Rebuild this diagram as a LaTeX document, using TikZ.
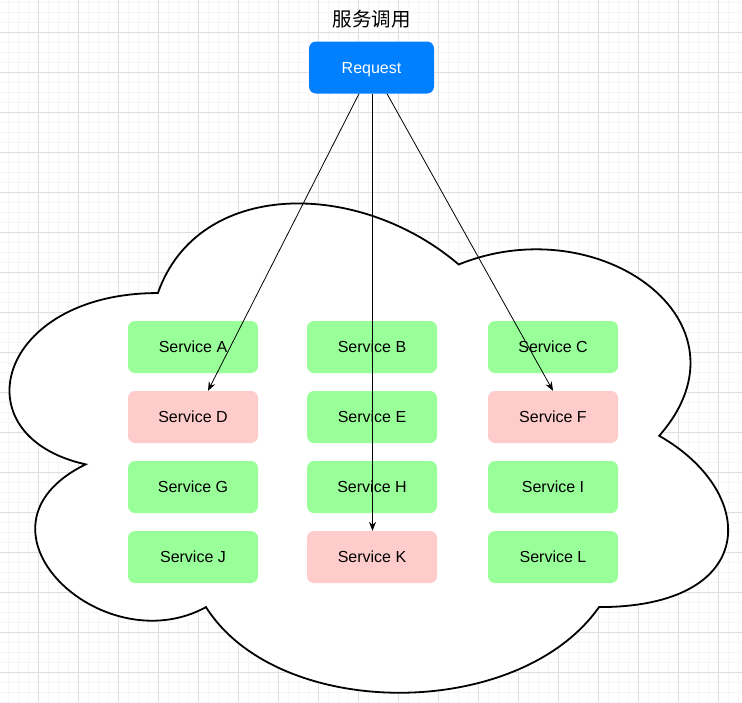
\documentclass[tikz,border=0pt]{standalone}
\usepackage{fontspec}
\setmainfont{Liberation Sans}
\newfontfamily\cjk{Noto Sans CJK SC}
\usetikzlibrary{arrows.meta}
\definecolor{reqblue}{HTML}{007FFF}
\definecolor{okgreen}{HTML}{99FF99}
\definecolor{badpink}{HTML}{FFCCCC}
\definecolor{gridminor}{HTML}{F5F5F5}
\definecolor{gridmajor}{HTML}{DEDEDE}
\tikzset{
  svc/.style={rounded corners=7pt, minimum width=130pt, minimum height=52pt, inner sep=0pt, text height=11.5pt, text depth=0pt, font=\fontsize{16}{19}\selectfont, text=black},
  okbox/.style={svc, fill=okgreen},
  badbox/.style={svc, fill=badpink},
  reqbox/.style={rounded corners=7pt, fill=reqblue, minimum width=125pt, minimum height=52pt, inner sep=0pt, text height=11.5pt, text depth=0pt, text=white, font=\fontsize{16}{19}\selectfont},
  call/.style={line width=0.8pt, -{Stealth[length=9pt,width=7pt,inset=3pt]}},
  cloudline/.style={draw=black, line width=1.8pt, fill=white, line join=miter}
}
\begin{document}
\begin{tikzpicture}[x=1pt,y=-1pt]
\useasboundingbox (0,0) rectangle (742,702);
\fill[white] (0,0) rectangle (742,702);
% grid
\foreach \gx in {8,18,...,738} \draw[gridminor, line width=0.6pt] (\gx,0) -- (\gx,702);
\foreach \gy in {2,12,...,702} \draw[gridminor, line width=0.6pt] (0,\gy) -- (742,\gy);
\foreach \gx in {38,78,...,738} \draw[gridmajor, line width=0.8pt] (\gx,0) -- (\gx,702);
\foreach \gy in {32,72,...,692} \draw[gridmajor, line width=0.8pt] (0,\gy) -- (742,\gy);
% cloud
\draw[cloudline] (157.9,293.05)
  .. controls (-2.5,293.05) and (-42.6,435.8) .. (85.7,464.35)
  .. controls (-42.6,527.2) and (101.8,664.2) .. (206.0,607.1)
  .. controls (278.2,721.3) and (518.8,721.3) .. (599.0,607.1)
  .. controls (759.4,607.1) and (759.4,492.9) .. (659.2,435.8)
  .. controls (759.4,321.6) and (599.0,207.4) .. (458.7,264.5)
  .. controls (358.4,178.85) and (198.0,178.85) .. (157.9,293.05) -- cycle;
% title and request
\node[font=\cjk\fontsize{19.5}{22}\selectfont] (title) at (371.5,19) {服务调用};
\node[reqbox] (req) at (371.5,67.5) {Request};
% services
\node[okbox]  (A) at (193,347) {Service A};
\node[okbox]  (B) at (372,347) {Service B};
\node[okbox]  (C) at (553,347) {Service C};
\node[badbox] (D) at (193,417) {Service D};
\node[okbox]  (E) at (372,417) {Service E};
\node[badbox] (F) at (553,417) {Service F};
\node[okbox]  (G) at (193,487) {Service G};
\node[okbox]  (H) at (372,487) {Service H};
\node[okbox]  (I) at (553,487) {Service I};
\node[okbox]  (J) at (193,557) {Service J};
\node[badbox] (K) at (372,557) {Service K};
\node[okbox]  (L) at (553,557) {Service L};
% calls
\draw[call] ([xshift=-12.5pt]req.south) -- ([xshift=15pt]D.north);
\draw[call] ([xshift=1pt]req.south) -- ([xshift=0.5pt]K.north);
\draw[call] ([xshift=15.5pt]req.south) -- ([xshift=0pt]F.north);
\end{tikzpicture}
\end{document}
